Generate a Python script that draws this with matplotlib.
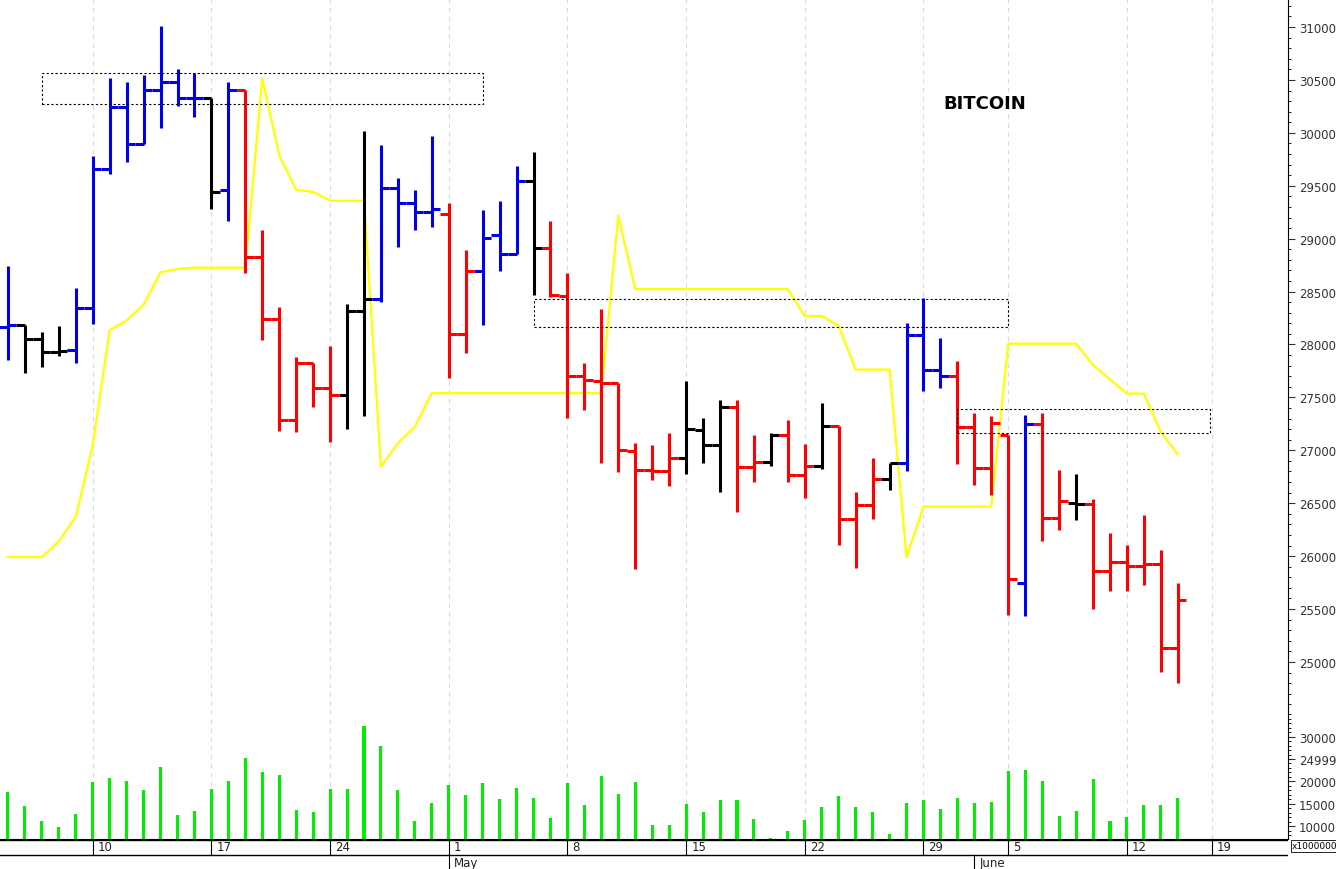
import matplotlib
matplotlib.use("Agg")
import matplotlib.pyplot as plt
from matplotlib.patches import Rectangle
from matplotlib.ticker import MultipleLocator

opens = [28165,28185,28050,27930,27950,28345,29655,30240,29890,30409,30485,30329,30329,29460,30401,28827,28244,27287,27822,27590,
         27527,28312,28430,29481,29337,29249,29232,28101,28692,29038,28852,29544,28911,28460,27700,27658,27637,26995,26814,26801,
         26932,27189,27046,27413,26843,26894,27143,26763,26856,27232,26350,26485,26729,26877,28093,27755,27700,27223,26835,27143,
         25746,27244,26362,26506,26489,25856,25940,25907,25928,25134]
highs = [28745,28185,28120,28175,28535,29780,30520,30477,30549,31013,30603,30566,30329,30481,30409,29084,28354,27882,27822,27987,
         28384,30013,29882,29578,29460,29966,29337,28894,29274,29359,29683,29823,29169,28675,27827,28333,27637,27067,27046,27164,
         27654,27308,27476,27476,27147,27164,27287,27063,27443,27232,26607,26928,26877,28206,28439,28059,27848,27350,27320,27143,
         27329,27350,26814,26780,26540,26219,26105,26388,26054,25750]
lows = [27850,27730,27785,27890,27825,28195,29610,29726,29890,30042,30253,30148,29283,29164,28671,28038,27181,27173,27405,27076,
        27202,27320,28405,28924,29084,29114,27679,27924,28185,28692,28852,28468,28451,27308,27384,26877,26793,25881,26717,26658,
        26772,26877,26603,26413,26700,26848,26700,26552,26822,26109,25885,26350,26624,26805,27565,27586,26869,26675,26582,25442,
        25434,26147,26244,26341,25497,25674,25674,25729,24906,24801]
closes = [28185,28050,27930,27940,28345,29655,30240,29890,30409,30485,30329,30329,29443,30401,28827,28244,27287,27822,27590,27527,
          28312,28430,29481,29337,29249,29283,28101,28692,29008,28852,29544,28911,28468,27700,27666,27637,27004,26814,26801,26932,
          27202,27046,27413,26843,26894,27143,26763,26856,27232,26350,26485,26729,26877,28093,27755,27700,27223,26835,27257,25780,
          27244,26362,26518,26489,25856,25940,25907,25928,25134,25582]
bar_colors = list("BKKKBBBBBBBBKBRRRRRRKKBBBBRRBBBKRRRRRRRRKKKRRKRRKRRRKBBBRRRRBRRKRRRRRR")
signal = [25991,25991,25991,26139,26371,27046,28135,28228,28375,28683,28713,28726,28726,28726,28726,30515,29789,29460,29443,29359,
          29359,29359,26843,27067,27223,27540,27540,27540,27540,27540,27540,27540,27540,27540,27540,27540,29219,28523,28523,28523,
          28523,28523,28523,28523,28523,28523,28523,28270,28270,28177,27763,27763,27763,25991,26468,26468,26468,26468,26468,28008,
          28008,28008,28008,28008,27806,27671,27536,27536,27173,26962]
volumes = [17542,14409,11052,9709,12618,19780,20675,20078,18064,23211,12469,13364,18288,20078,25151,22018,21346,13588,13066,18288,
           18288,32462,27837,18064,11126,15080,19183,16945,19631,16050,18512,16348,11872,19631,14707,21123,17169,19780,10231,10231,
           14856,13066,15826,15826,11574,7322,8963,11350,14259,16721,14259,13066,8142,15155,15751,13737,16199,15080,15304,22316,
           22540,20078,12245,13439,20526,11052,12096,14707,14707,16274]
zones = [(2.0, 28.0, 30270, 30570), (31.0, 59.0, 28164, 28434), (56.0, 70.9, 27164, 27392)]
tick_idx = [5, 12, 19, 26, 33, 40, 47, 54, 59, 66, 71]
tick_lab = ["10", "17", "24", "1", "8", "15", "22", "29", "5", "12", "19"]
months = [(26, "May"), (57, "June")]
price_ticks = [25000,25500,26000,26500,27000,27500,28000,28500,29000,29500,30000,30500,31000]
vol_ticks = [10000,15000,20000,24999,30000]

cmap = {"B": "#0000ee", "K": "#000000", "R": "#ff0000"}
W, H = 1336, 870
fig = plt.figure(figsize=(W/100, H/100), dpi=100)
fig.patch.set_facecolor("white")
axw = 1288/W
ax = fig.add_axes([0, 1-715/H, axw, 715/H])
av = fig.add_axes([0, 30/H, axw, 125/H])
ad = fig.add_axes([0, 0, axw, 30/H])
xl = (-0.47, 75.5)
n = len(opens)
xs = list(range(n))
grid_kw = dict(color="#d8d8e8", lw=0.8, ls=(0, (4, 4)), zorder=0)
for a in (ax, av):
    a.set_xlim(*xl)
    for t in tick_idx:
        a.axvline(t, **grid_kw)
    a.set_xticks([])
    a.yaxis.tick_right()
    a.spines["top"].set_visible(False)
    a.spines["left"].set_visible(False)
    a.tick_params(axis="y", labelsize=8.5, length=5, pad=3, colors="#333333")
    a.tick_params(axis="y", which="minor", length=2.5)

cols = [cmap[c] for c in bar_colors]
ax.vlines(xs, lows, highs, colors=cols, lw=2.2, zorder=3)
ax.hlines(opens, [x-0.5 for x in xs], xs, colors=cols, lw=2.2, zorder=3)
ax.hlines(closes, xs, [x+0.5 for x in xs], colors=cols, lw=2.2, zorder=3)
ax.plot(xs, signal, color="#ffff00", lw=1.6, zorder=2)
for x0, x1, y0, y1 in zones:
    ax.add_patch(Rectangle((x0, y0), x1-x0, y1-y0, fill=False, ec="black", lw=0.8, ls=(0, (2, 2)), zorder=4))
ax.set_ylim(24508, 31265)
ax.set_yticks(price_ticks)
ax.yaxis.set_minor_locator(MultipleLocator(100))
ax.spines["bottom"].set_visible(False)
ax.text(943/1288*(xl[1]-xl[0])+xl[0], 30280, "BITCOIN", fontsize=13, fontweight="bold", ha="left", va="center",
        family="Verdana" if False else "DejaVu Sans")

av.bar(xs, [v-7098 for v in volumes], bottom=7098, width=0.18, color="#00ee00", zorder=3)
av.set_ylim(7098, 35080)
av.set_yticks(vol_ticks)
av.yaxis.set_minor_locator(MultipleLocator(1000))
av.spines["bottom"].set_color("black")
av.text(1.003, -0.02, "x1000000", transform=av.transAxes, fontsize=6.5, va="top", ha="left",
        bbox=dict(boxstyle="square,pad=0.15", fc="white", ec="black", lw=0.6))

ad.set_xlim(*xl)
ad.set_ylim(0, 30)
ad.axis("off")
ad.axhline(14, color="black", lw=1)
ad.axhline(29.5, color="black", lw=1)
for t, lab in zip(tick_idx, tick_lab):
    ad.plot([t, t], [14, 30], color="black", lw=0.8)
    ad.text(t+0.3, 22, lab, fontsize=8.5, va="center", ha="left", color="#222222")
for t, lab in months:
    ad.plot([t, t], [0, 14], color="black", lw=0.8)
    ad.text(t+0.3, 6.5, lab, fontsize=8.5, va="center", ha="left", color="#222222")

fig.savefig("out.png", dpi=100, facecolor="white")
